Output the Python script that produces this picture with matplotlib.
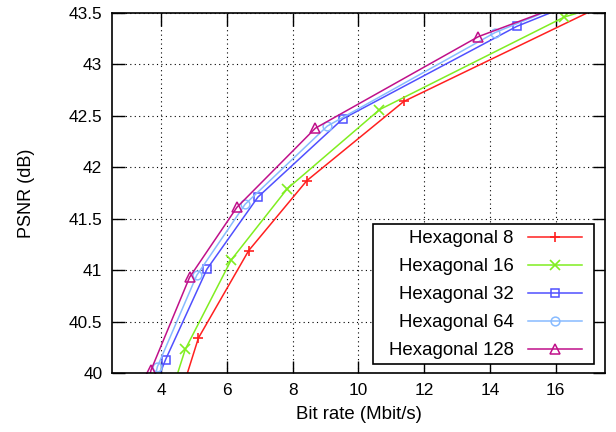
import matplotlib.pyplot as plt
from matplotlib.patches import Rectangle
import numpy as np

plt.rcParams['font.family'] = ['Liberation Sans', 'DejaVu Sans']

# Bit rate (Mbit/s) and PSNR (dB) per configuration
# (first/last points lie outside the visible range so the lines run off the frame)
hex8_rate = [4.5, 5.13, 6.66, 8.43, 11.38, 17.8]
hex8_psnr = [39.70, 40.34, 41.19, 41.87, 42.64, 43.63]

hex16_rate = [4.2, 4.73, 6.13, 7.83, 10.64, 16.26, 17.5]
hex16_psnr = [39.70, 40.23, 41.10, 41.79, 42.56, 43.46, 43.58]

hex32_rate = [3.6, 4.13, 5.39, 6.94, 9.52, 14.82, 17.0]
hex32_psnr = [39.70, 40.13, 41.01, 41.71, 42.47, 43.37, 43.65]

hex64_rate = [3.7, 3.88, 5.08, 6.55, 9.05, 14.16, 17.0]
hex64_psnr = [39.80, 40.06, 40.95, 41.64, 42.40, 43.31, 43.68]

hex128_rate = [3.55, 3.69, 4.86, 6.30, 8.69, 13.65, 17.0]
hex128_psnr = [39.85, 40.03, 40.93, 41.61, 42.38, 43.27, 43.67]

fig = plt.figure(figsize=(6.16, 4.32), dpi=100)
ax = fig.add_axes([0.1818, 0.1366, 0.8002, 0.8334])

ax.plot(hex8_rate, hex8_psnr, color='#ff2020', marker='+', ms=6.5, mew=1.2, lw=1.1, label='Hexagonal 8')
ax.plot(hex16_rate, hex16_psnr, color='#80ee20', marker='x', ms=6.5, mew=1.2, lw=1.1, label='Hexagonal 16')
ax.plot(hex32_rate, hex32_psnr, color='#5050ff', marker='s', ms=6, mew=1.1, mfc='none', lw=1.1, label='Hexagonal 32')
ax.plot(hex64_rate, hex64_psnr, color='#88bbff', marker='o', ms=6.3, mew=1.1, mfc='none', lw=1.1, label='Hexagonal 64')
ax.plot(hex128_rate, hex128_psnr, color='#c0108a', marker='^', ms=7, mew=1.1, mfc='none', lw=1.1, label='Hexagonal 128')

ax.set_xlim(2.5, 17.5)
ax.set_ylim(40, 43.5)
ax.set_xticks([4, 6, 8, 10, 12, 14, 16])
ax.set_yticks([40, 40.5, 41, 41.5, 42, 42.5, 43, 43.5])
ax.set_yticklabels(['40', '40.5', '41', '41.5', '42', '42.5', '43', '43.5'])
ax.tick_params(direction='in', length=9, width=1, top=True, right=True, labelsize=12.4, pad=7, colors='black')
ax.grid(True, color='black', linestyle=(0, (1, 3)), linewidth=0.8)
for s in ax.spines.values():
    s.set_linewidth(1.2)

ax.set_xlabel('Bit rate (Mbit/s)', fontsize=13.4, labelpad=6)
ax.set_ylabel('PSNR (dB)', fontsize=13, labelpad=24)

# gnuplot-style key box (white, black border)
box = Rectangle((0.529, 0.025), 0.449, 0.389, transform=ax.transAxes,
                facecolor='white', edgecolor='black', linewidth=1.2, zorder=4)
ax.add_patch(box)
leg = ax.legend(loc='lower right', bbox_to_anchor=(0.953, 0.038), markerfirst=False,
                fontsize=13.4, frameon=False,
                handlelength=2.9, handletextpad=0.75, labelspacing=0.59, borderpad=0,
                numpoints=1, borderaxespad=0)
leg.set_zorder(5)

plt.savefig('out.png', dpi=100)
